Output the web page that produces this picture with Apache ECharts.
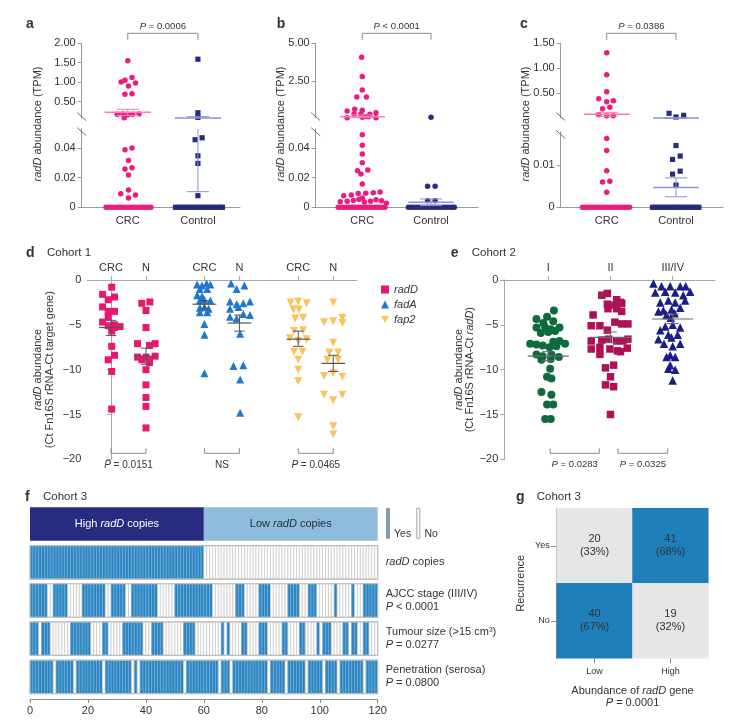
<!DOCTYPE html>
<html><head><meta charset="utf-8">
<script src="https://cdn.jsdelivr.net/npm/echarts@6/dist/echarts.min.js"></script>
<style>html,body{margin:0;padding:0;background:#fff}#c{width:740px;height:720px}</style>
</head><body><div id="c"></div><script>
var FONT = '"Liberation Sans", Arial, Helvetica, sans-serif';
var TXT = '#333333';
var AX = '#9b9b9b';

// ===== panels a–c : x positions CRC = 1, Control = 2
var abcGroups = ['CRC', 'Control'];
var abcGroupX = [1, 2];
// panel a  ([jitter, value])
var aCrcHigh = [[0.00,1.55],[-0.095,1.00],[-0.04,1.05],[0.06,1.12],[0.11,0.98],[0.01,0.90],[-0.04,0.69],[0.06,0.70],[-0.15,0.17],[-0.07,0.18],[0.005,0.16],[0.07,0.17],[0.16,0.18],[-0.05,0.08]];
var aCrcLow = [[-0.04,0.0387],[0.06,0.0398],[0.01,0.0315],[-0.04,0.0257],[0.06,0.0266],[0.01,0.0217],[0.01,0.0116],[-0.10,0.0091],[0.11,0.0083],[0.01,0.0062]];
var aCrcZero = [-0.31,-0.27,-0.23,-0.19,-0.15,-0.11,-0.07,-0.03,0.01,0.05,0.09,0.13,0.17,0.21,0.25,0.29,0.33];
var aCtlHigh = [[0.00,1.59],[0.00,0.21],[0.00,0.09]];
var aCtlLow = [[-0.04,0.0454],[0.06,0.0467],[0.00,0.0346],[0.00,0.0295],[0.00,0.0078]];
var aCtlZero = [-0.32,-0.28,-0.24,-0.20,-0.16,-0.12,-0.08,-0.04,0.00,0.04,0.08,0.12,0.16,0.20,0.24,0.28,0.32,0.35];
var aStats = [[0.22,0.14,0.30],[0.075,0.0105,0.11]];   // [mean, low, high] per group
var aUpTicks = [0.5,1.0,1.5,2.0];
var aLowTicks = [0,0.02,0.04];
var aP = '{i|P} = 0.0006';
// panel b
var bCrcHigh = [[-0.01,4.07],[0.00,2.79],[0.00,1.90],[-0.08,1.44],[0.06,1.44],[-0.22,0.50],[-0.11,0.62],[0.00,0.56],[0.20,0.40],[-0.02,0.31],[0.11,0.29],[-0.12,0.31],[0.09,0.13],[-0.22,0.06],[0.20,0.06],[0.00,0.09],[0.05,0.15]];
var bCrcLow = [[0.00,0.0487],[0.00,0.0416],[0.00,0.0358],[0.00,0.0300],[-0.07,0.0246],[0.08,0.0250],[-0.02,0.0224],[0.00,0.0156],[-0.27,0.0077],[-0.16,0.0082],[-0.06,0.0093],[0.05,0.0095],[0.16,0.0097],[0.26,0.0102],[-0.32,0.0038],[-0.22,0.0040],[-0.13,0.0045],[-0.05,0.0052],[0.03,0.0036],[0.12,0.0041],[0.20,0.0050],[0.28,0.0044],[0.35,0.0027],[0.00,0.0062]];
var bCrcZero = [-0.35,-0.31,-0.27,-0.23,-0.19,-0.15,-0.11,-0.07,-0.03,0.01,0.05,0.09,0.13,0.17,0.21,0.25,0.29,0.33];
var bCtlHigh = [[0.00,0.09]];
var bCtlLow = [[-0.05,0.0141],[0.06,0.0141],[-0.05,0.0044],[0.06,0.0044]];
var bCtlZero = [-0.33,-0.29,-0.25,-0.21,-0.17,-0.13,-0.09,-0.05,-0.01,0.03,0.07,0.11,0.15,0.19,0.23,0.27,0.31,0.34];
var bStats = [[0.13,0.06,0.25],[0.0034,0.0012,0.0056]];
var bUpTicks = [2.5,5.0];
var bLowTicks = [0,0.02,0.04];
var bP = '{i|P} < 0.0001';
// panel c
var cCrcHigh = [[0.00,1.31],[0.00,0.87],[0.00,0.53],[-0.115,0.39],[0.00,0.33],[0.095,0.35],[-0.06,0.19],[0.045,0.22],[-0.115,0.07],[0.00,0.05],[0.095,0.05]];
var cCrcLow = [[0.00,0.0164],[0.00,0.0135],[0.00,0.0087],[-0.06,0.0060],[0.045,0.0062],[0.00,0.0036]];
var cCrcZero = [-0.35,-0.31,-0.27,-0.23,-0.19,-0.15,-0.11,-0.07,-0.03,0.01,0.05,0.09,0.13,0.17,0.21,0.25,0.29,0.33];
var cCtlHigh = [[-0.10,0.10],[0.00,0.026],[0.11,0.06]];
var cCtlLow = [[0.00,0.0147],[-0.05,0.0114],[0.06,0.0122],[-0.05,0.0079],[0.06,0.0086],[0.00,0.0053]];
var cCtlZero = [-0.34,-0.30,-0.26,-0.22,-0.18,-0.14,-0.10,-0.06,-0.02,0.02,0.06,0.10,0.14,0.18,0.22,0.26,0.30,0.33];
var cStats = [[0.08,0.04,0.12],[0.0047,0.0025,0.007]];
var cUpTicks = [0.5,1.0,1.5];
var cLowTicks = [0,0.01];
var cP = '{i|P} = 0.0386';

// ===== panel d (Cohort 1)
var dPos = [0, 1, 2.67, 3.67, 5.35, 6.35];
var dLabels = ['CRC','N','CRC','N','CRC','N'];
var dRadDCrc = [[0.02,-0.8],[-0.24,-1.6],[0.1,-1.9],[-0.08,-2.2],[-0.24,-3.0],[-0.08,-3.5],[0.1,-3.5],[-0.08,-4.1],[-0.24,-4.7],[0.1,-5.0],[-0.08,-5.1],[0.26,-5.2],[0.1,-5.3],[0.02,-5.7],[0.02,-7.4],[0.1,-8.4],[-0.08,-8.9],[0.02,-10.2],[0.02,-14.4]];
var dRadDN = [[-0.12,-2.6],[0.11,-2.45],[0,-3.4],[0,-5.3],[-0.24,-7.1],[0.1,-7.3],[0.26,-7.1],[-0.24,-8.6],[-0.12,-8.9],[0,-8.6],[0.1,-8.9],[0.26,-8.5],[0.1,-9.2],[0,-10.0],[0,-11.7],[0,-13.1],[0,-14.1],[0,-16.5]];
var dFadACrc = [[-0.21,-0.5],[-0.07,-0.6],[0.06,-0.4],[0.17,-0.5],[-0.13,-1.0],[0.08,-1.0],[-0.21,-1.7],[-0.07,-1.8],[-0.13,-2.3],[0.0,-2.2],[0.17,-2.3],[-0.13,-3.1],[0.0,-3.0],[0.12,-3.2],[-0.13,-3.6],[0.08,-3.6],[0.0,-4.9],[0.0,-6.1],[0.0,-10.4]];
var dFadAN = [[-0.24,-0.4],[0.14,-0.6],[-0.08,-1.0],[-0.27,-2.4],[-0.08,-2.7],[0.11,-2.6],[0.3,-2.4],[-0.27,-3.2],[-0.03,-3.0],[-0.27,-4.1],[-0.08,-4.3],[0.11,-3.8],[0.3,-3.9],[0.02,-6.0],[-0.17,-9.6],[0.11,-9.5],[0.02,-11.1],[0.02,-14.8]];
var dFap2Crc = [[-0.22,-2.5],[0,-2.4],[0.24,-2.6],[-0.14,-3.3],[0.02,-3.3],[-0.09,-4.3],[0.14,-4.2],[-0.12,-5.7],[0.14,-5.6],[-0.24,-6.5],[0,-6.8],[0.24,-6.6],[-0.12,-8.0],[0.12,-8.0],[0,-8.9],[0,-10.0],[0,-11.3],[0,-15.3]];
var dFap2N = [[0,-2.5],[-0.26,-4.7],[0,-4.6],[0.26,-4.2],[0.26,-4.8],[0,-7.0],[-0.11,-8.1],[0.14,-8.1],[-0.17,-8.9],[0.14,-8.9],[-0.26,-10.7],[0,-10.4],[0.26,-10.8],[-0.26,-12.8],[0,-13.4],[0.26,-12.8],[0,-16.3],[0,-17.2]];
var dStats = [[-5.3,-6.2,-4.5],[-8.5,-9.4,-7.6],[-2.7,-3.2,-2.3],[-4.8,-5.7,-3.9],[-6.6,-7.4,-5.7],[-9.3,-10.2,-8.4]];
var dP = ['{i|P} = 0.0151', 'NS', '{i|P} = 0.0465'];

// ===== panel e (Cohort 2)
var eStages = ['I','II','III/IV'];
var eX = [1, 2, 3];
var eStageI = [[0.09,-3.4],[-0.19,-4.35],[-0.02,-4.1],[-0.08,-4.8],[0.08,-4.6],[-0.19,-5.3],[-0.05,-5.3],[0.04,-5.5],[0.18,-5.3],[-0.12,-5.9],[0.0,-5.8],[0.11,-5.7],[0.18,-6.8],[0.27,-7.1],[0.08,-6.9],[-0.29,-7.1],[-0.19,-7.2],[-0.09,-7.3],[0.02,-7.5],[0.13,-7.4],[-0.19,-8.3],[-0.09,-8.5],[0.05,-8.3],[0.17,-8.6],[-0.11,-8.9],[0.04,-8.8],[0.03,-9.9],[-0.02,-10.8],[0.05,-11.0],[-0.11,-12.5],[0.05,-12.8],[-0.02,-13.9],[0.08,-13.9],[-0.05,-15.5],[0.04,-15.5]];
var eStageII = [[-0.14,-1.7],[-0.05,-1.5],[0.1,-2.2],[0.18,-2.6],[-0.05,-2.7],[0.07,-2.8],[0.16,-2.5],[-0.04,-3.2],[0.1,-3.2],[0.18,-3.5],[-0.28,-3.9],[-0.31,-5.1],[-0.17,-5.1],[0.07,-4.7],[0.18,-4.9],[0.28,-4.9],[-0.05,-5.6],[-0.31,-6.8],[-0.14,-6.7],[-0.03,-6.6],[0.1,-6.8],[0.2,-6.8],[0.28,-6.6],[-0.31,-7.7],[-0.17,-7.5],[-0.01,-7.7],[0.11,-7.9],[0.27,-7.6],[-0.17,-8.3],[0.16,-8.0],[-0.08,-9.8],[0.05,-9.5],[0,-10.8],[-0.08,-11.7],[0.05,-11.9],[0,-15.0]];
var eStageIII = [[-0.31,-0.4],[-0.18,-0.7],[-0.04,-0.7],[0.12,-0.7],[0.21,-0.7],[-0.28,-1.4],[-0.12,-1.3],[0.04,-1.4],[0.17,-1.7],[0.28,-1.3],[-0.2,-2.5],[-0.07,-2.3],[0.04,-2.5],[0.2,-2.3],[-0.15,-3.4],[-0.02,-3.3],[0.12,-3.1],[-0.23,-3.5],[-0.1,-3.9],[0.03,-3.7],[-0.03,-4.2],[-0.12,-5.2],[0,-5.0],[0.12,-5.3],[-0.2,-5.6],[-0.07,-6.1],[0.08,-6.1],[-0.23,-6.6],[-0.02,-6.4],[-0.14,-7.1],[0,-7.4],[0.12,-7.1],[-0.04,-8.4],[-0.1,-8.6],[0.04,-8.6],[-0.04,-9.5],[-0.07,-9.9],[0.04,-10.0],[0,-11.2]];
var eStats = [[-8.5,-9.0,-8.0],[-6.4,-7.0,-5.8],[-4.35,-4.85,-3.8]];
var eBrackets = [[1.03,1.82],[2.12,2.92]];
var eP = ['{i|P} = 0.0283', '{i|P} = 0.0325'];

// ===== panel f (Cohort 3): run-lengths of [yes(1)/no(0), count] over 120 patients
var fRows = ['header','radD','AJCC','Tumour','Penetration'];
var fRowLabels = ['', '{i|radD} copies', 'AJCC stage (III/IV)\n{i|P} < 0.0001', 'Tumour size (>15 cm³)\n{i|P} = 0.0277', 'Penetration (serosa)\n{i|P} = 0.0800'];
var fHeader = [['High {i|radD} copies', 0, 60], ['Low {i|radD} copies', 60, 120]];
var fRadDRuns = [[1,60],[0,60]];
var fAjccRuns = [[1,6],[0,2],[1,5],[0,5],[1,8],[0,2],[1,5],[0,2],[1,9],[0,6],[1,13],[0,8],[1,3],[0,5],[1,4],[0,6],[1,4],[0,3],[1,3],[0,6],[1,1],[0,5],[1,1],[0,3],[1,5]];
var fTumourRuns = [[1,3],[0,1],[1,3],[0,7],[1,7],[0,4],[1,2],[0,5],[1,7],[0,3],[1,4],[0,7],[1,4],[0,9],[1,1],[0,1],[1,1],[0,4],[1,2],[0,4],[1,3],[0,5],[1,2],[0,4],[1,2],[0,4],[1,1],[0,1],[1,3],[0,4],[1,2],[0,1],[1,2],[0,2],[1,2],[0,3]];
var fPenRuns = [[1,8],[0,1],[1,6],[0,1],[1,9],[0,1],[1,9],[0,1],[1,1],[0,1],[1,15],[0,1],[1,11],[0,1],[1,3],[0,1],[1,12],[0,1],[1,5],[0,1],[1,6],[0,1],[1,5],[0,1],[1,4],[0,1],[1,8],[0,1],[1,4]];

// ===== panel g (Cohort 3)
var gAbundance = ['Low','High'];
var gRecurrence = ['No','Yes'];
var gCells = [[0,1,20,33],[1,1,41,68],[0,0,40,67],[1,0,19,32]]; // [abundance, recurrence, n, %]

// ---------- helpers ----------
function RICH(size, color){ return {i:{fontStyle:'italic', fontSize:size, fontFamily:FONT, color:color||TXT, fill:color||TXT}}; }
function shift(arr, c){ return arr.map(function(p){ return [c + p[0], p[1]]; }); }
function zeros(xs, c){ return xs.map(function(x){ return [c + x, 0]; }); }
function expand(runs){ var out=[]; runs.forEach(function(r){ for (var k=0;k<r[1];k++) out.push(r[0]); }); return out; }
function ln(x1,y1,x2,y2,c,w){ return {type:'line', shape:{x1:x1,y1:y1,x2:x2,y2:y2}, style:{stroke:c, lineWidth:w||1}}; }

var series = [];
function sc(gi, data, sym, size, color, rot, name){
  series.push({type:'scatter', name:name, xAxisIndex:gi, yAxisIndex:gi, data:data, symbol:sym, symbolSize:size,
    symbolRotate:rot||0, itemStyle:{color:color, opacity:1}, silent:true, z:3, clip:false});
}
function stats(gi, xs, st, color, halfW, capW, lw){
  var data = st.map(function(s, k){ return [xs[k], s[0], s[1], s[2]]; });
  series.push({type:'custom', xAxisIndex:gi, yAxisIndex:gi, silent:true, z:4, clip:false, data:data,
    renderItem:function(params, api){
      var cs = params.coordSys, top = cs.y, bot = cs.y + cs.height;
      var x = api.value(0), unit = api.size([1,0])[0];
      var cx = api.coord([x, api.value(1)])[0];
      var ym = api.coord([x, api.value(1)])[1], yl = api.coord([x, api.value(2)])[1], yh = api.coord([x, api.value(3)])[1];
      function inR(y){ return y >= top - 0.6 && y <= bot + 0.6; }
      var ch = [];
      if (inR(ym)) ch.push(ln(cx - halfW*unit, ym, cx + halfW*unit, ym, color, lw));
      var a = Math.max(top, Math.min(bot, yh)), b = Math.max(top, Math.min(bot, yl));
      if (b - a > 0.5) ch.push(ln(cx, a, cx, b, color, 1));
      if (inR(yl)) ch.push(ln(cx - capW*unit, yl, cx + capW*unit, yl, color, 1));
      if (inR(yh)) ch.push(ln(cx - capW*unit, yh, cx + capW*unit, yh, color, 1));
      return {type:'group', children:ch};
    }});
}
function brackets(gi, pairs, texts, where, fs){
  series.push({type:'custom', xAxisIndex:gi, yAxisIndex:gi, silent:true, z:5, clip:false, data:pairs,
    renderItem:function(params, api){
      var cs = params.coordSys;
      var x1 = api.coord([api.value(0), 0])[0], x2 = api.coord([api.value(1), 0])[0];
      var yb, ye, yt;
      if (where === 'top'){ yb = cs.y - 10; ye = cs.y - 3.5; yt = cs.y - 17.3; }
      else { yb = cs.y + cs.height - 6; ye = yb - 5; yt = cs.y + cs.height + 5.5; }
      var c = '#8a8a8a';
      return {type:'group', children:[
        ln(x1,yb,x2,yb,c,1), ln(x1,yb,x1,ye,c,1), ln(x2,yb,x2,ye,c,1),
        {type:'text', style:{text:texts[params.dataIndex], x:(x1+x2)/2, y:yt, align:'center', textAlign:'center',
          verticalAlign:'middle', textVerticalAlign:'middle', fontSize:fs, fontFamily:FONT, fill:TXT, rich:RICH(fs)}}
      ]};
    }});
}
function breakMark(gi, where){
  series.push({type:'custom', xAxisIndex:gi, yAxisIndex:gi, silent:true, z:6, clip:false, data:[[0,0]],
    renderItem:function(params, api){
      var cs = params.coordSys, x = cs.x;
      var y = where === 'bottom' ? cs.y + cs.height - 1.3 : cs.y + 2.7;
      return ln(x - 4.5, y - 4, x + 4.5, y + 4, '#6f6f6f', 1);
    }});
}

var PINK = '#e91d80', NAVY = '#262c7e', PINK_M = '#f27fb5', NAVY_M = '#8d91cf';

// ---------- panels a–c ----------
var abc = [
  {up:0, low:1, crcH:aCrcHigh, crcL:aCrcLow, crcZ:aCrcZero, ctlH:aCtlHigh, ctlL:aCtlLow, ctlZ:aCtlZero, st:aStats, p:aP, ctlSym:'rect'},
  {up:2, low:3, crcH:bCrcHigh, crcL:bCrcLow, crcZ:bCrcZero, ctlH:bCtlHigh, ctlL:bCtlLow, ctlZ:bCtlZero, st:bStats, p:bP, ctlSym:'circle'},
  {up:4, low:5, crcH:cCrcHigh, crcL:cCrcLow, crcZ:cCrcZero, ctlH:cCtlHigh, ctlL:cCtlLow, ctlZ:cCtlZero, st:cStats, p:cP, ctlSym:'rect'}
];
abc.forEach(function(P){
  var ctlSize = P.ctlSym === 'rect' ? 5.2 : 5.5;
  sc(P.up, shift(P.crcH, abcGroupX[0]), 'circle', 5.5, PINK);
  sc(P.low, shift(P.crcL, abcGroupX[0]), 'circle', 5.5, PINK);
  sc(P.low, zeros(P.crcZ, abcGroupX[0]), 'circle', 5.5, PINK);
  sc(P.up, shift(P.ctlH, abcGroupX[1]), P.ctlSym, ctlSize, NAVY);
  sc(P.low, shift(P.ctlL, abcGroupX[1]), P.ctlSym, ctlSize, NAVY);
  sc(P.low, zeros(P.ctlZ, abcGroupX[1]), P.ctlSym, ctlSize, NAVY);
  [P.up, P.low].forEach(function(gi){
    stats(gi, [abcGroupX[0]], [P.st[0]], PINK_M, 0.33, 0.16, 1.5);
    stats(gi, [abcGroupX[1]], [P.st[1]], NAVY_M, 0.33, 0.16, 1.5);
  });
  brackets(P.up, [[abcGroupX[0], abcGroupX[1]]], [P.p], 'top', 9.5);
  breakMark(P.up, 'bottom');
  breakMark(P.low, 'top');
});

// ---------- panel d ----------
var D_PINK = '#e8176f', D_BLUE = '#1f77cf', D_YEL = '#f9c45e';
sc(6, shift(dRadDCrc, dPos[0]), 'rect', 7, D_PINK, 0, 'radD');
sc(6, shift(dRadDN, dPos[1]), 'rect', 7, D_PINK, 0, 'radD');
sc(6, shift(dFadACrc, dPos[2]), 'triangle', 8, D_BLUE, 0, 'fadA');
sc(6, shift(dFadAN, dPos[3]), 'triangle', 8, D_BLUE, 0, 'fadA');
sc(6, shift(dFap2Crc, dPos[4]), 'triangle', 8, D_YEL, 180, 'fap2');
sc(6, shift(dFap2N, dPos[5]), 'triangle', 8, D_YEL, 180, 'fap2');
stats(6, dPos, dStats, '#555555', 0.34, 0.15, 1.2);
brackets(6, [[dPos[0],dPos[1]],[dPos[2],dPos[3]],[dPos[4],dPos[5]]], dP, 'bottom', 10);

// ---------- panel e ----------
sc(7, shift(eStageI, eX[0]), 'circle', 8, '#0e6b3d');
sc(7, shift(eStageII, eX[1]), 'rect', 7.5, '#ad1257');
sc(7, shift(eStageIII, eX[2]), 'triangle', 8.5, '#1b1d88');
stats(7, eX, eStats, '#6a6a6a', 0.33, 0.1, 1.2);
brackets(7, eBrackets, eP, 'bottom', 9.5);

// ---------- panel f ----------
var fCells = [];
[fRadDRuns, fAjccRuns, fTumourRuns, fPenRuns].forEach(function(runs, r){
  expand(runs).forEach(function(v, i){ fCells.push([i, r + 1, v]); });
});
series.push({type:'custom', xAxisIndex:8, yAxisIndex:8, silent:true, z:3, data:fCells,
  renderItem:function(params, api){
    var x = api.value(0), r = api.value(1), v = api.value(2);
    var p0 = api.coord([x, r]), p1 = api.coord([x + 1, r]);
    var h = api.size([0, 1])[1] * 0.877;
    return {type:'rect', shape:{x:p0[0], y:p0[1] - h/2, width:p1[0] - p0[0], height:h},
      style: v ? {fill:'#2d86c1', stroke:'#6eaedb', lineWidth:0.6} : {fill:'#ffffff', stroke:'#c6c6c6', lineWidth:0.7}};
  }});
series.push({type:'custom', xAxisIndex:8, yAxisIndex:8, silent:true, z:4, data:[[0,120,1],[0,120,2],[0,120,3],[0,120,4]],
  renderItem:function(params, api){
    var r = api.value(2), p0 = api.coord([api.value(0), r]), p1 = api.coord([api.value(1), r]);
    var h = api.size([0, 1])[1] * 0.877;
    return {type:'rect', shape:{x:p0[0], y:p0[1] - h/2, width:p1[0] - p0[0], height:h}, style:{fill:'none', stroke:'#bdbdbd', lineWidth:1.2}};
  }});
series.push({type:'custom', xAxisIndex:8, yAxisIndex:8, silent:true, z:4, data:fHeader.map(function(h){ return [h[1], h[2], 0]; }),
  renderItem:function(params, api){
    var p0 = api.coord([api.value(0), 0]), p1 = api.coord([api.value(1), 0]);
    var h = api.size([0, 1])[1] * 0.877;
    var high = params.dataIndex === 0;
    var col = high ? '#ffffff' : '#1e2a3c';
    return {type:'group', children:[
      {type:'rect', shape:{x:p0[0], y:p0[1] - h/2, width:p1[0] - p0[0], height:h}, style:{fill: high ? '#272c80' : '#8fbbdc'}},
      {type:'text', style:{text:fHeader[params.dataIndex][0], x:(p0[0] + p1[0])/2, y:p0[1], align:'center', textAlign:'center',
        verticalAlign:'middle', textVerticalAlign:'middle', fontSize:11, fontFamily:FONT, fill:col, rich:RICH(11, col)}}
    ]};
  }});

// ---------- panel g ----------
series.push({type:'heatmap', xAxisIndex:9, yAxisIndex:9, data:gCells, silent:true,
  label:{show:true, formatter:function(p){ return p.value[2] + '\n(' + p.value[3] + '%)'; }, color:TXT, fontSize:11, fontFamily:FONT, lineHeight:13},
  itemStyle:{borderWidth:0}});
var gSeriesIndex = series.length - 1;

// ---------- axes ----------
function abcX(gi, min, max, show){
  return {gridIndex:gi, type:'value', min:min, max:max, show:show,
    axisLine:{show:true, lineStyle:{color:AX}}, axisTick:{show:false}, splitLine:{show:false},
    axisLabel:{customValues:abcGroupX, formatter:function(v){ return abcGroups[abcGroupX.indexOf(Math.round(v))]; }, margin:8, fontSize:11, color:TXT, fontFamily:FONT}};
}
function abcY(gi, min, max, ticks){
  return {gridIndex:gi, type:'value', min:min, max:max,
    axisLine:{show:true, lineStyle:{color:AX}}, splitLine:{show:false},
    axisTick:{show:true, length:4, customValues:ticks, lineStyle:{color:AX}},
    axisLabel:{customValues:ticks, formatter:function(v){ return v === 0 ? '0' : v.toFixed(2); }, fontSize:11, color:TXT, fontFamily:FONT, margin:6}};
}
function fmtNeg(v){ return v === 0 ? '0' : (v < 0 ? '\u2212' + Math.abs(v) : String(v)); }
var xAxes = [
  abcX(0, 0.343, 2.6, false), abcX(1, 0.343, 2.6, true),
  abcX(2, 0.322, 2.684, false), abcX(3, 0.322, 2.684, true),
  abcX(4, 0.336, 2.678, false), abcX(5, 0.336, 2.678, true),
  {gridIndex:6, type:'value', position:'top', min:-0.677, max:7.02,
    axisLine:{show:true, lineStyle:{color:'#a8a8a8'}}, splitLine:{show:false},
    axisTick:{show:true, length:4, customValues:dPos, lineStyle:{color:'#a8a8a8'}},
    axisLabel:{customValues:dPos, formatter:function(v){ var k = dPos.indexOf(v); return k < 0 ? '' : dLabels[k]; }, margin:7, fontSize:11, color:TXT, fontFamily:FONT}},
  {gridIndex:7, type:'value', position:'top', min:0.293, max:3.68,
    axisLine:{show:true, lineStyle:{color:'#a8a8a8'}}, splitLine:{show:false},
    axisTick:{show:true, length:4, customValues:eX, lineStyle:{color:'#a8a8a8'}},
    axisLabel:{customValues:eX, formatter:function(v){ return eStages[eX.indexOf(Math.round(v))]; }, margin:7, fontSize:11, color:TXT, fontFamily:FONT}},
  {gridIndex:8, type:'value', min:0, max:120, interval:20, offset:3,
    axisLine:{show:true, lineStyle:{color:'#8c8c8c'}}, splitLine:{show:false},
    axisTick:{show:true, length:4, lineStyle:{color:'#8c8c8c'}},
    axisLabel:{fontSize:11, color:TXT, fontFamily:FONT, margin:6}},
  {gridIndex:9, type:'category', data:gAbundance,
    axisLine:{show:false}, axisTick:{show:true, alignWithLabel:true, length:5, lineStyle:{color:'#8c8c8c'}},
    axisLabel:{fontSize:9, color:TXT, fontFamily:FONT, margin:9},
    name:'Abundance of {i|radD} gene\n{i|P} = 0.0001', nameLocation:'middle', nameGap:26,
    nameTextStyle:{fontSize:11, color:TXT, fontFamily:FONT, lineHeight:12.5, rich:{i:{fontStyle:'italic', fontSize:11, fontFamily:FONT, color:TXT, lineHeight:12.5}}}}
];
var yAxes = [
  abcY(0, 0.075, 2.0, aUpTicks), abcY(1, 0, 0.0526, aLowTicks),
  abcY(2, 0.05, 5.0, bUpTicks), abcY(3, 0, 0.0526, bLowTicks),
  abcY(4, 0.01, 1.5, cUpTicks), abcY(5, 0, 0.018, cLowTicks),
  {gridIndex:6, type:'value', min:-20, max:0, interval:5,
    axisLine:{show:true, lineStyle:{color:'#a8a8a8'}}, splitLine:{show:false},
    axisTick:{show:true, length:4, lineStyle:{color:'#a8a8a8'}},
    axisLabel:{formatter:fmtNeg, fontSize:11, color:TXT, fontFamily:FONT, margin:6},
    name:'{i|radD} abundance\n(Ct Fn16S rRNA-Ct target gene)', nameLocation:'middle', nameGap:32, nameRotate:90,
    nameTextStyle:{fontSize:11, color:TXT, fontFamily:FONT, lineHeight:11.5, rich:{i:{fontStyle:'italic', fontSize:11, fontFamily:FONT, color:TXT, lineHeight:11.5}}}},
  {gridIndex:7, type:'value', min:-20, max:0, interval:5,
    axisLine:{show:true, lineStyle:{color:'#a8a8a8'}}, splitLine:{show:false},
    axisTick:{show:true, length:4, lineStyle:{color:'#a8a8a8'}},
    axisLabel:{formatter:fmtNeg, fontSize:11, color:TXT, fontFamily:FONT, margin:6},
    name:'{i|radD} abundance\n(Ct Fn16S rRNA-Ct {i|radD})', nameLocation:'middle', nameGap:29, nameRotate:90,
    nameTextStyle:{fontSize:11, color:TXT, fontFamily:FONT, lineHeight:11, rich:{i:{fontStyle:'italic', fontSize:11, fontFamily:FONT, color:TXT, lineHeight:11}}}},
  {gridIndex:8, type:'category', data:fRows, inverse:true, position:'right',
    axisLine:{show:false}, axisTick:{show:false}, splitLine:{show:false},
    axisLabel:{formatter:function(v, i){ return fRowLabels[i]; }, align:'left', margin:8, fontSize:11, color:TXT, fontFamily:FONT, lineHeight:13,
      rich:{i:{fontStyle:'italic', fontSize:11, fontFamily:FONT, color:TXT, lineHeight:13}}}},
  {gridIndex:9, type:'category', data:gRecurrence,
    axisLine:{show:true, lineStyle:{color:'#999999'}}, axisTick:{show:true, alignWithLabel:true, length:6, lineStyle:{color:'#999999'}},
    axisLabel:{fontSize:9, color:TXT, fontFamily:FONT, margin:7},
    name:'Recurrence', nameLocation:'middle', nameGap:30, nameTextStyle:{fontSize:11, color:TXT, fontFamily:FONT}}
];
var grids = [
  {left:81.7, top:43.3, width:158.3, height:74.7},
  {left:81.7, top:129, width:158.3, height:78.3},
  {left:315.7, top:43.3, width:162.3, height:74.6},
  {left:315.7, top:129, width:162.3, height:78.3},
  {left:560.7, top:43.3, width:162.3, height:74.5},
  {left:560.7, top:131.7, width:162.3, height:75.6},
  {left:87.3, top:280, width:269.4, height:179.3},
  {left:504.3, top:280, width:210.7, height:179.3},
  {left:30, top:505, width:347.7, height:191},
  {left:556.7, top:508.3, width:151.6, height:150}
];

// ---------- text decorations ----------
function gtext(x, y, text, size, o){
  o = o || {};
  return {type:'text', x:x, y:y, rotation:o.rot || 0, silent:true, z:10,
    style:{text:text, fontSize:size, fontFamily:FONT, fontWeight:o.bold ? 'bold' : 'normal', fill:TXT,
      align:o.align || 'left', textAlign:o.align || 'left', verticalAlign:'middle', textVerticalAlign:'middle', rich:RICH(size)}};
}
var graphics = [
  gtext(26, 24, 'a', 14, {bold:true}), gtext(276.7, 24, 'b', 14, {bold:true}), gtext(520, 24, 'c', 14, {bold:true}),
  gtext(37.5, 124, '{i|radD} abundance (TPM)', 11, {rot:Math.PI/2, align:'center'}),
  gtext(280.5, 124, '{i|radD} abundance (TPM)', 11, {rot:Math.PI/2, align:'center'}),
  gtext(525.5, 124, '{i|radD} abundance (TPM)', 11, {rot:Math.PI/2, align:'center'}),
  gtext(26, 253.3, 'd', 14, {bold:true}), gtext(47, 253.3, 'Cohort 1', 11.5),
  gtext(450.7, 253.3, 'e', 14, {bold:true}), gtext(471.7, 253.3, 'Cohort 2', 11.5),
  gtext(25, 497, 'f', 14, {bold:true}), gtext(43, 497, 'Cohort 3', 11.5),
  gtext(516, 497, 'g', 14, {bold:true}), gtext(536.7, 497, 'Cohort 3', 11.5),
  {type:'rect', shape:{x:386.5, y:508.3, width:3, height:30}, style:{fill:'#6f9fc6', stroke:'#8a8a8a', lineWidth:0.8}, silent:true},
  gtext(394, 534, 'Yes', 10.5),
  {type:'rect', shape:{x:416.8, y:508.3, width:3, height:30}, style:{fill:'#ffffff', stroke:'#8a8a8a', lineWidth:0.8}, silent:true},
  gtext(424.5, 534, 'No', 10.5)
];

var chart = echarts.init(document.getElementById('c'), null, {renderer:'canvas'});
chart.setOption({
  animation:false,
  backgroundColor:'#ffffff',
  textStyle:{fontFamily:FONT},
  grid:grids, xAxis:xAxes, yAxis:yAxes, series:series,
  legend:{orient:'vertical', left:376, top:279, itemWidth:8, itemHeight:8, itemGap:4, selectedMode:false,
    textStyle:{fontStyle:'italic', fontSize:11, color:TXT, fontFamily:FONT},
    data:[{name:'radD', icon:'rect'}, {name:'fadA', icon:'triangle'}, {name:'fap2', icon:'path://M0,0L10,0L5,9Z'}]},
  visualMap:[{type:'piecewise', show:false, seriesIndex:gSeriesIndex, dimension:2,
    pieces:[{min:30, color:'#1f7fbb'}, {max:30, color:'#e6e6e6'}]}],
  graphic:graphics
});
</script></body></html>
